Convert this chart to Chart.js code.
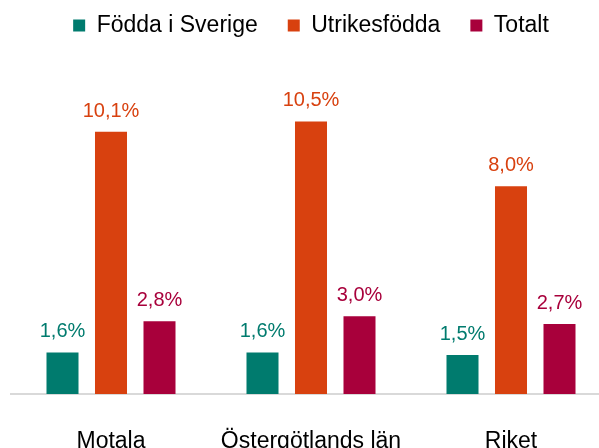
<!DOCTYPE html>
<html>
<head>
<meta charset="utf-8">
<script src="https://cdn.jsdelivr.net/npm/chart.js@4/dist/chart.umd.min.js"></script>
<style>
html,body{margin:0;padding:0;background:#fff;overflow:hidden;width:599px;height:448px}
#wrap{position:absolute;left:0;top:0;width:620px;height:470px}
</style>
</head>
<body>
<div id="wrap"><canvas id="c"></canvas></div>
<script>
const categories=['Motala','Östergötlands län','Riket'];
const seriesNames=['Födda i Sverige','Utrikesfödda','Totalt'];
const fodda=[1.6,1.6,1.5];
const utrikes=[10.1,10.5,8.0];
const totalt=[2.8,3.0,2.7];
const colors=['#007B6E','#D8410F','#A8003B'];

const FONT='"Liberation Sans", Arial, sans-serif';

const valueLabels={
  id:'valueLabels',
  afterDatasetsDraw(chart){
    const ctx=chart.ctx;
    ctx.save();
    ctx.font='20px '+FONT;
    ctx.textAlign='center';
    ctx.textBaseline='alphabetic';
    chart.data.datasets.forEach((ds,i)=>{
      chart.getDatasetMeta(i).data.forEach((bar,j)=>{
        ctx.fillStyle=ds.backgroundColor;
        ctx.fillText(ds.data[j].toFixed(1).replace('.',',')+'%',bar.x,bar.y-15);
      });
    });
    ctx.restore();
  }
};

new Chart(document.getElementById('c'),{
  type:'bar',
  data:{labels:categories,datasets:[
    {label:seriesNames[0],data:fodda,backgroundColor:colors[0]},
    {label:seriesNames[1],data:utrikes,backgroundColor:colors[1]},
    {label:seriesNames[2],data:totalt,backgroundColor:colors[2]},
  ]},
  options:{
    responsive:true,maintainAspectRatio:false,animation:false,
    categoryPercentage:0.7275,barPercentage:0.66,
    layout:{padding:{left:11,right:9,top:-16,bottom:0}},
    plugins:{
      legend:{position:'top',labels:{boxWidth:12,boxHeight:12,padding:30,color:'#000',font:{family:FONT,size:23}}},
      tooltip:{enabled:false}
    },
    scales:{
      x:{grid:{display:false,drawTicks:false},border:{display:true,color:'#d9d9d9',width:2},
         ticks:{color:'#000',padding:34,font:{family:FONT,size:23}},
         afterFit:s=>{s.height=76;}},
      y:{display:false,min:0,max:13.37}
    }
  },
  plugins:[valueLabels]
});
</script>
</body>
</html>
